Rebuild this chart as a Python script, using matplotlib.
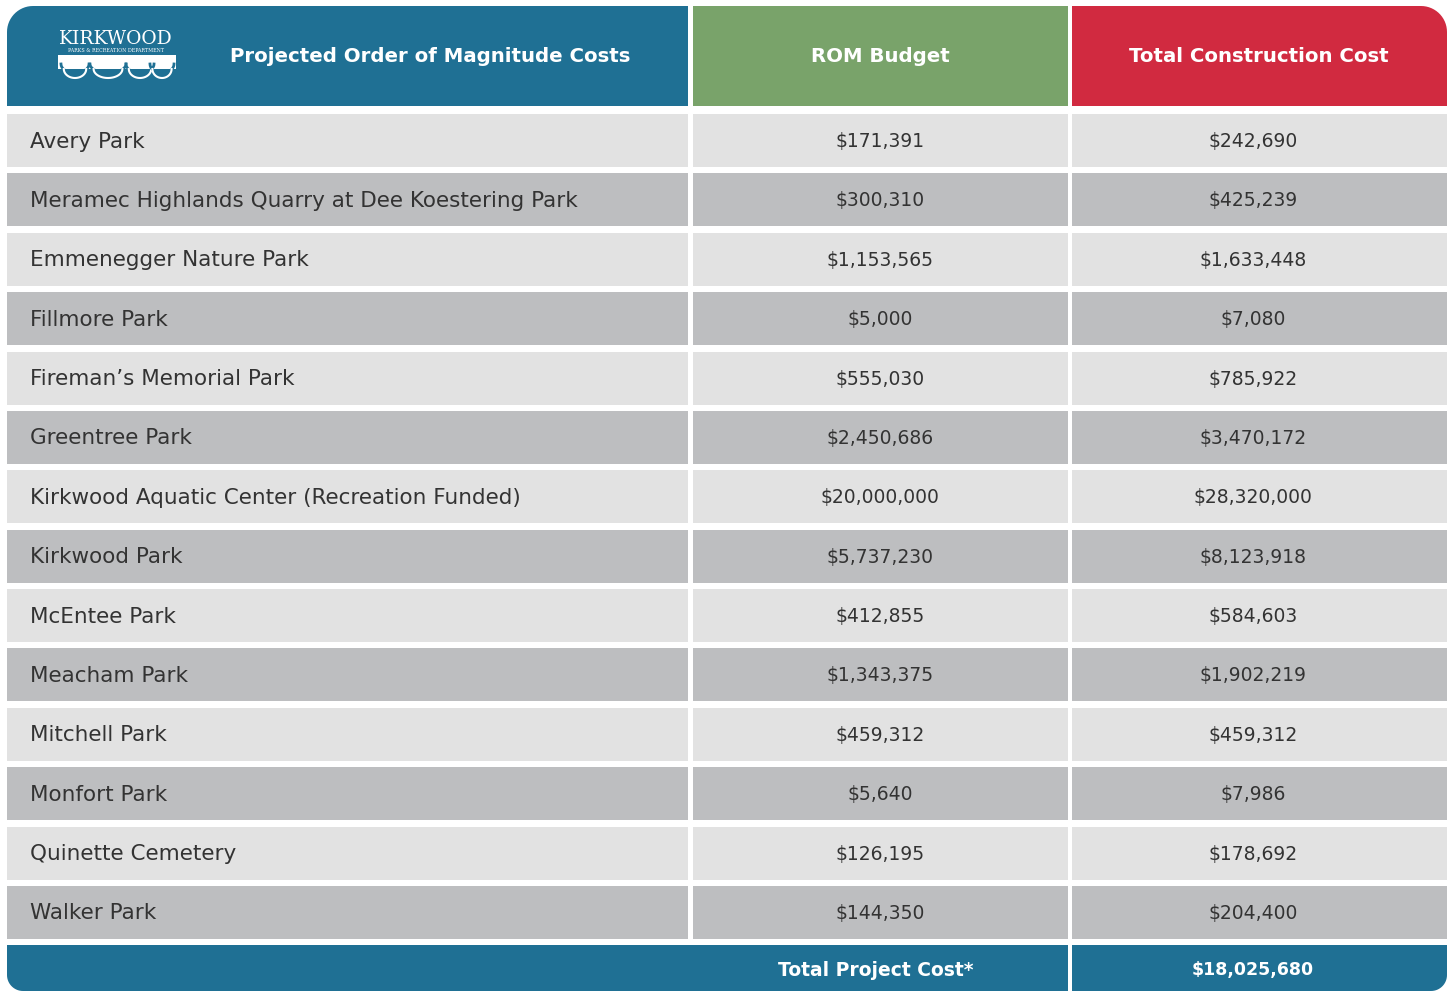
import matplotlib
matplotlib.use('Agg')
import matplotlib.pyplot as plt
from matplotlib.patches import Polygon, Rectangle
import numpy as np

plt.rcParams['font.family'] = ['DejaVu Sans']

# table data
parks = ['Avery Park', 'Meramec Highlands Quarry at Dee Koestering Park',
         'Emmenegger Nature Park', 'Fillmore Park', 'Fireman\u2019s Memorial Park',
         'Greentree Park', 'Kirkwood Aquatic Center (Recreation Funded)',
         'Kirkwood Park', 'McEntee Park', 'Meacham Park', 'Mitchell Park',
         'Monfort Park', 'Quinette Cemetery', 'Walker Park']
rom_budget = [171391, 300310, 1153565, 5000, 555030, 2450686, 20000000,
              5737230, 412855, 1343375, 459312, 5640, 126195, 144350]
construction = [242690, 425239, 1633448, 7080, 785922, 3470172, 28320000,
                8123918, 584603, 1902219, 459312, 7986, 178692, 204400]
headers = ['Projected Order of Magnitude Costs', 'ROM Budget', 'Total Construction Cost']
total_label = 'Total Project Cost*'
total_value = 18025680

BLUE = '#1f7094'
GREEN = '#79a36a'
RED = '#d12a40'
LIGHT = '#e2e2e2'
DARK = '#bdbec0'
TXT = '#333333'

W, H = 1448, 991
fig = plt.figure(figsize=(W / 100, H / 100), dpi=100)
ax = fig.add_axes([0, 0, 1, 1])
ax.set_xlim(0, W)
ax.set_ylim(H, 0)
ax.axis('off')

cols = [(7, 688), (693, 1068), (1072, 1447)]


def rrect(x0, y0, x1, y1, r, tl=0, tr=0, br=0, bl=0, **kw):
    # rectangle in pixel coords (y down) with chosen rounded corners
    pts = []
    def arc(cx, cy, a0, a1):
        t = np.radians(np.linspace(a0, a1, 16))
        return list(zip(cx + r * np.cos(t), cy + r * np.sin(t)))
    if tl:
        pts += arc(x0 + r, y0 + r, 180, 270)
    else:
        pts.append((x0, y0))
    if tr:
        pts += arc(x1 - r, y0 + r, 270, 360)
    else:
        pts.append((x1, y0))
    if br:
        pts += arc(x1 - r, y1 - r, 0, 90)
    else:
        pts.append((x1, y1))
    if bl:
        pts += arc(x0 + r, y1 - r, 90, 180)
    else:
        pts.append((x0, y1))
    ax.add_patch(Polygon(pts, closed=True, lw=0, **kw))


# header
hy0, hy1 = 6, 106
rrect(cols[0][0], hy0, cols[0][1], hy1, 26, tl=1, fc=BLUE)
rrect(cols[1][0], hy0, cols[1][1], hy1, 26, fc=GREEN)
rrect(cols[2][0], hy0, cols[2][1], hy1, 26, tr=1, fc=RED)
hfont = dict(color='white', fontsize=14.2, fontweight='bold', va='center', ha='center')
ax.text(430, 57, headers[0], **hfont)
ax.text(880, 57, headers[1], **hfont)
ax.text(1259, 57, headers[2], **hfont)

# logo
ax.text(116, 39, 'KIRKWOOD', color='white', fontsize=13.5, family='DejaVu Serif',
        va='center', ha='center')
ax.text(116, 51, 'PARKS & RECREATION DEPARTMENT', color='white', fontsize=3.4,
        family='DejaVu Serif', va='center', ha='center')
ax.add_patch(Rectangle((58, 55), 118, 14, fc='white', lw=0))
t = np.linspace(0, np.pi, 30)
for cx, rx in [(75, 14), (108, 18), (140, 14), (162, 12)]:
    ax.plot(cx + rx * np.cos(t), 64 + 9 * np.sin(t), color=BLUE, lw=2)
    ax.plot(cx + rx * np.cos(t) * 0.8, 69 + 9 * np.sin(t), color='white', lw=1.5)

# rows
row_top, pitch, row_h = 114, 59.38, 53
for i, name in enumerate(parks):
    y0 = row_top + i * pitch
    fc = LIGHT if i % 2 == 0 else DARK
    for (x0, x1) in cols:
        ax.add_patch(Rectangle((x0, y0), x1 - x0, row_h, fc=fc, lw=0))
    yc = y0 + row_h / 2 + 1
    ax.text(30, yc, name, color=TXT, fontsize=15.5, va='center', ha='left')
    ax.text(880, yc, f'${rom_budget[i]:,}', color=TXT, fontsize=13.5, va='center', ha='center')
    ax.text(1253, yc, f'${construction[i]:,}', color=TXT, fontsize=13.5, va='center', ha='center')

# footer
fy0, fy1 = 945, 991
rrect(cols[0][0], fy0, cols[1][1], fy1, 16, bl=1, fc=BLUE)
rrect(cols[2][0], fy0, cols[2][1], fy1, 16, br=1, fc=BLUE)
ax.text(876, 970, total_label, **dict(hfont, fontsize=13.5))
ax.text(1253, 970, f'${total_value:,}', **dict(hfont, fontsize=12.5))

fig.savefig('out.png', dpi=100, facecolor='white')
